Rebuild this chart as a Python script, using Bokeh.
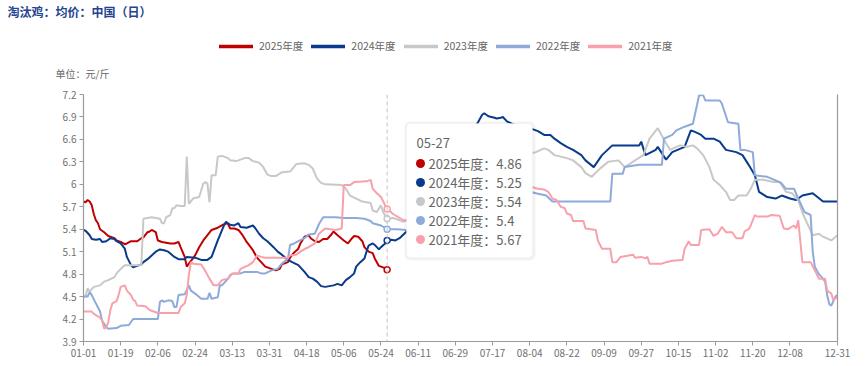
import pandas as pd
from bokeh.plotting import figure
from bokeh.layouts import column
from bokeh.models import (FixedTicker, CustomJSTickFormatter, Legend, LegendItem, Span,
                          BoxAnnotation, Label, LinearAxis, Range1d)
from bokeh.core.properties import value
from bokeh.embed import file_html
from bokeh.resources import INLINE

# ---------------- data ----------------
days = list(pd.date_range("2024-01-01", "2024-12-31").strftime("%m-%d"))   # 366 categories
x_ticks = list(range(0, 343, 18)) + [365]
y_ticks = [3.9, 4.2, 4.5, 4.8, 5.1, 5.4, 5.7, 6.0, 6.3, 6.6, 6.9, 7.2]
cross_day = "05-27"
title_text = "淘汰鸡：均价：中国（日）"
unit_text = "单位：元/斤"

d2025 = [0,1,2,3,4,5,6,7,8,10,12,13,15,16,18,20,21,23,25,26,28,29,31,32,33,35,36,38,40,42,44,46,47,49,50,51,53,54,56,58,60,62,65,67,69,70,71,73,75,77,79,82,84,86,88,91,93,95,96,99,100,102,104,105,107,109,110,112,114,116,118,120,121,123,126,128,130,131,133,135,136,138,140,141,143,144,146,147]
v2025 = [5.77,5.76,5.79,5.77,5.72,5.6,5.52,5.48,5.4,5.36,5.31,5.3,5.28,5.25,5.23,5.2,5.21,5.24,5.24,5.24,5.28,5.29,5.36,5.37,5.39,5.36,5.25,5.23,5.22,5.21,5.21,5.23,5.16,5.03,4.9,4.94,5.01,5.05,5.16,5.25,5.32,5.39,5.42,5.45,5.48,5.47,5.41,5.41,5.39,5.32,5.23,5.12,5.02,4.96,4.9,4.87,4.85,4.87,4.93,4.96,5.02,5.09,5.14,5.21,5.3,5.32,5.28,5.24,5.23,5.27,5.27,5.33,5.37,5.32,5.25,5.21,5.28,5.31,5.3,5.24,5.16,5.1,5.08,5.01,4.91,4.9,4.88,4.86]

d2024 = [0,1,3,4,6,8,9,11,13,15,16,18,20,21,23,24,26,28,29,31,33,35,37,39,41,44,46,49,50,54,57,60,62,65,68,69,71,73,75,76,79,82,83,85,87,89,92,94,96,99,101,104,107,109,111,113,115,117,119,121,123,125,127,129,131,132,134,136,137,138,140,141,143,144,146,147,149,151,153,156,160,165,170,175,180,185,189,191,193,194,196,199,200,202,203,205,208,212,216,220,223,226,228,231,234,237,241,243,247,251,256,269,270,272,277,278,282,285,291,294,296,299,301,305,308,311,316,319,322,325,327,331,335,338,342,345,348,353,358,365]
v2024 = [5.39,5.38,5.32,5.27,5.26,5.27,5.23,5.24,5.28,5.27,5.24,5.21,5.14,5.03,4.92,4.89,4.91,4.93,4.96,5.0,5.05,5.1,5.13,5.12,5.1,5.03,5.0,5.0,5.03,5.02,4.99,4.99,5.03,5.25,5.45,5.5,5.46,5.45,5.48,5.43,5.42,5.45,5.42,5.34,5.28,5.24,5.16,5.1,5.06,4.99,4.96,4.92,4.83,4.76,4.74,4.7,4.64,4.63,4.64,4.65,4.67,4.65,4.72,4.76,4.81,4.9,4.96,5.01,5.1,5.18,5.21,5.19,5.13,5.16,5.21,5.25,5.26,5.25,5.28,5.36,5.45,5.62,5.85,6.1,6.35,6.6,6.75,6.83,6.93,6.95,6.91,6.89,6.88,6.89,6.9,6.84,6.8,6.78,6.75,6.71,6.66,6.66,6.61,6.55,6.5,6.46,6.39,6.32,6.23,6.39,6.52,6.52,6.57,6.39,6.46,6.5,6.33,6.43,6.5,6.72,6.7,6.66,6.61,6.61,6.57,6.46,6.43,6.39,6.26,6.12,5.9,5.83,5.81,5.85,5.81,5.79,5.85,5.88,5.77,5.77]

d2023 = [0,1,2,3,5,8,10,12,15,16,18,20,28,29,33,37,38,39,40,42,43,44,45,47,49,50,51,53,56,58,59,60,61,62,64,65,67,70,71,74,78,80,82,85,87,89,91,93,96,100,103,107,109,111,113,115,117,125,127,129,132,135,139,140,142,144,145,147,150,155,160,165,170,180,190,200,210,216,219,223,225,228,231,234,237,241,243,246,250,254,259,262,267,271,274,278,282,284,287,289,292,295,297,300,303,305,308,311,313,315,317,321,323,325,329,334,337,340,343,346,348,350,353,356,358,362,365]
v2023 = [4.5,4.5,4.61,4.57,4.63,4.65,4.7,4.72,4.76,4.81,4.87,4.92,4.92,5.54,5.56,5.54,5.48,5.48,5.56,5.59,5.68,5.68,5.72,5.71,5.71,6.37,5.74,5.81,5.83,6.01,6.03,6.01,5.76,6.12,6.12,6.37,6.38,6.35,6.32,6.31,6.35,6.35,6.31,6.29,6.23,6.13,6.11,6.11,6.16,6.17,6.27,6.28,6.26,6.21,6.08,6.02,6.0,5.99,5.94,5.85,5.81,5.77,5.75,5.65,5.63,5.72,5.63,5.54,5.55,5.5,5.6,5.7,5.8,5.95,6.1,6.25,6.35,6.41,6.43,6.48,6.46,6.39,6.37,6.35,6.32,6.23,6.15,6.1,6.21,6.3,6.32,6.23,6.32,6.39,6.61,6.75,6.55,6.46,6.5,6.52,6.5,6.52,6.48,6.39,6.23,6.06,5.99,5.9,5.79,5.79,5.85,5.85,5.94,6.06,6.06,6.03,6.03,5.9,5.88,5.79,5.62,5.5,5.32,5.34,5.3,5.25,5.32]

d2022 = [0,2,3,4,6,8,9,11,12,16,18,22,24,36,37,38,39,41,43,44,45,46,49,51,52,54,57,60,61,62,65,66,67,70,71,73,76,78,84,86,88,91,94,96,99,100,102,104,107,109,112,114,116,122,126,132,136,139,140,144,147,152,156,165,175,185,195,205,212,216,219,224,227,255,256,261,262,269,280,281,285,287,291,293,295,297,298,300,301,308,309,312,317,318,320,324,325,331,337,338,340,344,346,349,352,353,354,356,358,359,360,361,362,364,365]
v2022 = [4.5,4.5,4.56,4.52,4.41,4.3,4.18,4.09,4.07,4.08,4.11,4.12,4.2,4.2,4.43,4.45,4.43,4.45,4.44,4.36,4.36,4.52,4.53,4.65,4.58,4.54,4.47,4.47,4.55,4.47,4.49,4.65,4.65,4.74,4.79,4.81,4.81,4.83,4.83,4.81,4.81,4.85,4.87,4.94,5.01,5.19,5.21,5.24,5.28,5.33,5.34,5.47,5.56,5.56,5.55,5.55,5.54,5.51,5.48,5.45,5.4,5.4,5.39,5.4,5.45,5.55,5.65,5.8,5.88,5.9,5.88,5.85,5.77,5.77,6.14,6.14,6.23,6.26,6.26,6.61,6.66,6.72,6.77,6.79,6.81,7.06,7.19,7.19,7.12,7.12,7.08,6.83,6.81,6.46,6.46,6.43,6.12,6.1,6.03,6.01,5.94,5.94,5.81,5.63,5.59,5.1,4.9,4.8,4.74,4.7,4.52,4.4,4.38,4.5,4.52]

d2021 = [0,4,5,8,9,10,11,12,13,14,16,17,18,20,21,23,24,25,26,30,32,36,46,47,49,50,51,52,53,57,59,61,63,65,67,70,72,75,76,80,82,84,86,88,99,100,103,105,108,109,112,114,117,122,125,126,129,131,137,139,140,142,144,146,147,150,155,160,170,180,190,200,210,216,220,223,225,227,229,231,233,234,236,237,242,243,248,249,251,255,256,258,260,264,266,267,270,272,273,274,280,282,285,290,291,293,294,298,299,303,305,307,309,311,314,316,319,320,322,323,325,326,331,333,337,339,341,344,345,346,348,352,354,356,359,360,362,363,365]
v2021 = [4.3,4.3,4.27,4.22,4.18,4.07,4.09,4.16,4.32,4.41,4.44,4.52,4.63,4.65,4.58,4.52,4.46,4.44,4.38,4.37,4.32,4.28,4.28,4.36,4.41,4.52,4.79,4.96,4.94,4.93,4.84,4.74,4.65,4.65,4.72,4.74,4.81,4.81,4.87,4.92,4.96,5.05,5.03,5.02,5.02,5.05,5.06,5.1,5.15,5.16,5.21,5.34,5.41,5.39,5.41,5.99,5.99,6.03,6.04,6.06,5.94,5.88,5.83,5.72,5.67,5.6,5.52,5.5,5.6,5.7,5.8,5.88,5.95,5.97,5.94,5.93,5.9,5.81,5.79,5.7,5.68,5.61,5.59,5.51,5.51,5.41,5.39,5.25,5.14,5.14,4.96,4.96,5.03,5.05,5.06,5.02,5.03,5.01,5.03,4.94,4.94,4.96,4.98,4.99,5.14,5.24,5.19,5.19,5.39,5.4,5.31,5.34,5.43,5.36,5.36,5.28,5.28,5.37,5.4,5.45,5.59,5.57,5.57,5.59,5.58,5.41,5.4,5.45,5.41,5.52,4.96,4.96,4.85,4.74,4.74,4.58,4.54,4.45,4.5]

names = ["2025年度", "2024年度", "2023年度", "2022年度", "2021年度"]
xs = [d2025, d2024, d2023, d2022, d2021]
ys = [v2025, v2024, v2023, v2022, v2021]
colors = ["#c00000", "#0a3a8c", "#c8c8c8", "#8eaadb", "#f8a1ab"]

# ---------------- layout constants (page pixels) ----------------
W = 865
HEAD_H = 88                    # header strip (title, legend, unit)
MAIN_H = 278
ML, MR, MT, MB = 83, 28, 6, 25
FRAME_TOP = HEAD_H + MT        # page y of the plot frame top
FW = W - ML - MR
FH = MAIN_H - MT - MB
X0, X1 = 0, len(days) - 1
Y0, Y1 = y_ticks[0], y_ticks[-1]

def px2x(px):      # page-pixel x -> data x
    return X0 + (px - ML) * (X1 - X0) / FW

def px2y(py):      # page-pixel y -> data y
    return Y0 + (FRAME_TOP + FH - py) * (Y1 - Y0) / FH

FONT = "Noto Sans CJK SC"

# ---------------- header ----------------
head = figure(width=W, height=HEAD_H, x_range=Range1d(0, W), y_range=Range1d(HEAD_H, 0),
              x_axis_type=None, y_axis_type=None, output_backend="svg", toolbar_location=None,
              min_border=0, background_fill_color="white", border_fill_color="white",
              frame_align=False)
head.outline_line_color = None
head.xgrid.visible = False
head.ygrid.visible = False
head.text(x=[7], y=[11], text=[title_text], text_font=value(FONT), text_font_style="bold",
          text_font_size="12px", text_color="#24448f", text_baseline="middle")
head.text(x=[55], y=[73], text=[unit_text], text_font=value(FONT), text_font_size="10px",
          text_color="#666666", text_baseline="middle")
items = []
for n, c in zip(names, colors):
    # legend swatches: off-canvas dummy segments that only carry the line style
    r = head.line(x=[-50, -40], y=[-50, -50], line_color=c, line_width=3.5, line_cap="round")
    items.append(LegendItem(label=n, renderers=[r]))
legend = Legend(items=items, orientation="horizontal", location=(219, HEAD_H - 53),
                background_fill_alpha=0, border_line_color=None, padding=0, margin=0,
                spacing=8, glyph_width=34, glyph_height=14, label_height=14,
                label_standoff=6, label_text_font_size="10.5px", label_text_color="#666666",
                label_text_font=FONT)
head.add_layout(legend, "center")

# ---------------- main chart ----------------
p = figure(width=W, height=MAIN_H, x_range=Range1d(X0, X1), y_range=Range1d(Y0, Y1),
           output_backend="svg", toolbar_location=None,
           min_border_left=ML, min_border_right=MR, min_border_top=MT, min_border_bottom=MB,
           background_fill_color="white", border_fill_color="white", frame_align=False)
p.outline_line_color = None
p.xgrid.visible = False
p.ygrid.visible = False

axis_col = "#9a9a9a"
for ax in (p.xaxis[0], p.yaxis[0]):
    ax.axis_line_color = axis_col
    ax.axis_line_width = 1.2
    ax.major_tick_line_color = axis_col
    ax.major_tick_out = 4
    ax.major_tick_in = 0
    ax.minor_tick_line_color = None
    ax.major_label_text_color = "#707070"
    ax.major_label_text_font = FONT
    ax.major_label_text_font_size = "10px"
    ax.major_label_standoff = 3

p.xaxis.ticker = FixedTicker(ticks=x_ticks)
p.xaxis.major_label_overrides = {t: days[t] for t in x_ticks}
p.yaxis.ticker = FixedTicker(ticks=y_ticks)
p.yaxis.formatter = CustomJSTickFormatter(code="return String(Math.round(tick*10)/10);")

raxis = LinearAxis(ticker=FixedTicker(ticks=[]), axis_line_color=axis_col, axis_line_width=1.2,
                   major_tick_line_color=None, minor_tick_line_color=None,
                   major_label_text_font_size="0px")
p.add_layout(raxis, "right")

# series lines
for d, v, c in zip(xs, ys, colors):
    p.line(x=d, y=v, line_color=c, line_width=2)

# crosshair at 05-27
ci = days.index(cross_day)
p.add_layout(Span(location=ci, dimension="height", line_color="#c4c4c4", line_width=1,
                  line_dash="4 3"))
cross_vals = [dict(zip(d, v))[ci] for d, v in zip(xs, ys)]
p.scatter(x=[ci] * 5, y=cross_vals, size=6, fill_color="white", line_color=colors, line_width=1.5)

# tooltip box
p.add_layout(BoxAnnotation(left=px2x(404), right=px2x(535), top=px2y(121), bottom=px2y(260),
                           fill_color="black", fill_alpha=0.05, line_alpha=0, border_radius=6))
p.add_layout(BoxAnnotation(left=px2x(406), right=px2x(532), top=px2y(123), bottom=px2y(257),
                           fill_color="white", fill_alpha=1, line_color="#e6e6e6", line_width=1,
                           border_radius=4))
p.add_layout(Label(x=px2x(416), y=px2y(142), text=cross_day, text_baseline="middle",
                   text_font=FONT, text_font_size="13px", text_color="#666666"))
for i, (n, val) in enumerate(zip(names, cross_vals)):
    p.add_layout(Label(x=px2x(428), y=px2y(163 + 19 * i), text=f"{n}：{val:g}",
                       text_baseline="middle", text_font=FONT, text_font_size="13px",
                       text_color="#666666"))
dots = p.scatter(x=[px2x(420)] * 5, y=[px2y(163 + 19 * i) for i in range(5)], size=9,
                 fill_color=colors, line_color=None)
dots.level = "overlay"

layout = column(head, p, spacing=0)
open("out.html", "w").write(file_html(layout, INLINE))
